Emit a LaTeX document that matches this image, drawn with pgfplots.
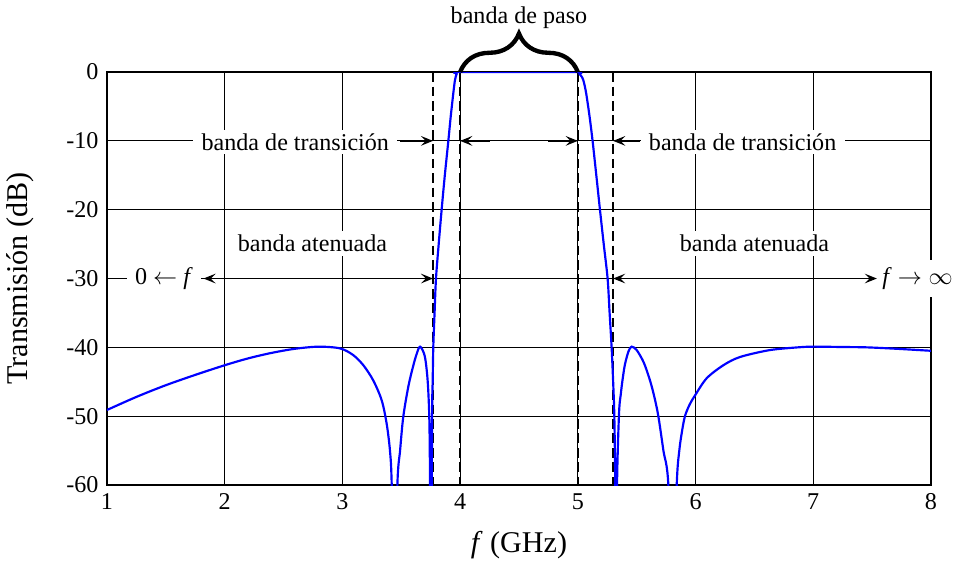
\documentclass[border=0pt]{standalone}
\usepackage{fontspec}
\setmainfont{Liberation Serif}
\usepackage{pgfplots}
\pgfplotsset{compat=1.18}
\usetikzlibrary{arrows.meta,decorations.pathreplacing}

\begin{document}
\begin{tikzpicture}[>={Stealth[length=5pt,width=4pt,inset=2pt]}]
\useasboundingbox (-44.4pt,-32pt) rectangle (352.8pt,201.3pt);
\begin{axis}[
    scale only axis,
    width=342pt, height=171.4pt,
    xmin=1, xmax=8, ymin=-60, ymax=0,
    xtick={1,2,...,8},
    ytick={-60,-50,...,0},
    grid=major,
    major grid style={black, line width=0.4pt},
    axis line style={line width=1pt},
    tick style={draw=none},
    tick label style={font=\fontsize{10}{12}\selectfont},
    /pgf/number format/assume math mode=true,
    xlabel={\textit{f} (GHz)},
    ylabel={Transmisión (dB)},
    label style={font=\fontsize{12.5}{15}\selectfont},
    xlabel style={at={(axis description cs:0.5,0)}, anchor=center, yshift=-25pt},
    ylabel style={at={(axis description cs:-0.1053,0.5)}, anchor=center},
  ]
  % band edges
  \addplot[black, line width=1.1pt, dash pattern=on 4pt off 2pt] coordinates {(3.77,0) (3.77,-60)};
  \addplot[black, line width=1.1pt, dash pattern=on 4pt off 2pt] coordinates {(4,0) (4,-60)};
  \addplot[black, line width=1.1pt, dash pattern=on 4pt off 2pt] coordinates {(5,0) (5,-60)};
  \addplot[black, line width=1.1pt, dash pattern=on 4pt off 2pt] coordinates {(5.3,0) (5.3,-60)};

  % filter response
  \addplot[blue, line width=0.9pt, smooth, tension=0.5] coordinates {
    (1.00,-49.1) (1.25,-47.2) (1.50,-45.5) (1.75,-44.0) (2.00,-42.6)
    (2.20,-41.6) (2.40,-40.8) (2.60,-40.2) (2.80,-39.9) (2.98,-40.15)
    (3.09,-41.1) (3.178,-42.6) (3.262,-44.8) (3.334,-47.7) (3.376,-51.1)
    (3.404,-55.0) (3.419,-60) (3.443,-80)
    (3.467,-60) (3.49,-55.0) (3.517,-50.1) (3.56,-45.7) (3.60,-42.8)
    (3.63,-41.0) (3.66,-39.9) (3.70,-41.3) (3.724,-44.8)
    (3.738,-50.1) (3.744,-58.6) (3.752,-80) (3.762,-50)
    (3.767,-45) (3.772,-40) (3.783,-35) (3.795,-30) (3.818,-25)
    (3.843,-20) (3.87,-15) (3.90,-10) (3.92,-6.5) (3.942,-3.1)
    (3.956,-1.2) (3.97,-0.3) (3.985,0) (4.5,0) (4.99,0)
    (5.015,-0.3) (5.03,-0.6) (5.047,-1.2) (5.07,-3.0) (5.10,-6.5)
    (5.126,-10.1) (5.157,-15) (5.188,-20) (5.22,-25) (5.253,-30)
    (5.27,-35) (5.287,-40) (5.30,-45) (5.31,-50) (5.318,-60)
    (5.325,-80) (5.333,-60) (5.35,-49.6) (5.365,-46.8) (5.38,-44.7)
    (5.40,-42.5) (5.43,-40.6) (5.457,-39.9) (5.50,-40.4) (5.56,-42.2)
    (5.613,-44.8) (5.65,-47.2) (5.684,-50.0) (5.727,-55.0) (5.769,-60) (5.805,-80)
    (5.84,-60) (5.862,-55.0) (5.885,-52.2) (5.91,-50.0) (5.95,-48.3) (5.995,-47.0)
    (6.094,-44.5) (6.236,-42.6) (6.378,-41.4) (6.63,-40.4) (6.87,-40.0)
    (7.00,-39.9) (7.25,-39.95) (7.454,-40.0) (7.70,-40.2) (8.00,-40.5)
  };

  % annotation anchors
  \coordinate (b4) at (axis cs:4,0);
  \coordinate (b5) at (axis cs:5,0);
  \coordinate (paso) at (axis cs:4.5,7.08);
  \coordinate (trL) at (axis cs:2.60,-11.33);
  \coordinate (trR) at (axis cs:6.40,-11.33);
  \coordinate (atL) at (axis cs:2.746,-26.1);
  \coordinate (atR) at (axis cs:6.50,-26.1);
  \coordinate (f0) at (axis cs:1.484,-30.85);
  \coordinate (finf) at (axis cs:7.886,-30.85);
  \coordinate (a1s) at (axis cs:3.49,-10);
  \coordinate (a1e) at (axis cs:3.77,-10);
  \coordinate (a2s) at (axis cs:4.25,-10);
  \coordinate (a2e) at (axis cs:4.0,-10);
  \coordinate (a3s) at (axis cs:4.75,-10);
  \coordinate (a3e) at (axis cs:5.0,-10);
  \coordinate (a4s) at (axis cs:5.53,-10);
  \coordinate (a4e) at (axis cs:5.3,-10);
  \coordinate (d1s) at (axis cs:1.82,-30);
  \coordinate (d1e) at (axis cs:3.77,-30);
  \coordinate (d2s) at (axis cs:5.3,-30);
  \coordinate (d2e) at (axis cs:7.54,-30);
\end{axis}

% labels drawn over grid and frame
\draw[decorate, decoration={brace, amplitude=16pt}, line width=1.8pt] (b4) -- (b5);
\node[anchor=base] at (paso) {banda de paso};
\node[anchor=base, fill=white, inner xsep=3.5pt, inner ysep=1.5pt] at (trL) {banda de transición};
\node[anchor=base, fill=white, inner xsep=3.5pt, inner ysep=1.5pt] at (trR) {banda de transición};
\node[anchor=base, fill=white, inner xsep=3.5pt, inner ysep=1.5pt] at (atL) {banda atenuada};
\node[anchor=base, fill=white, inner xsep=3.5pt, inner ysep=1.5pt] at (atR) {banda atenuada};
\node[anchor=base, fill=white, inner xsep=3.5pt, inner ysep=3pt] at (f0) {0 $\leftarrow$ \textit{f}};
\node[anchor=base, fill=white, inner xsep=3.5pt, inner ysep=3pt] at (finf) {\textit{f} $\rightarrow\infty$};

\draw[->, line width=0.8pt] (a1s) -- (a1e);
\draw[->, line width=0.8pt] (a2s) -- (a2e);
\draw[->, line width=0.8pt] (a3s) -- (a3e);
\draw[->, line width=0.8pt] (a4s) -- (a4e);
\draw[<->, line width=0.8pt] (d1s) -- (d1e);
\draw[<->, line width=0.8pt] (d2s) -- (d2e);
\end{tikzpicture}
\end{document}
